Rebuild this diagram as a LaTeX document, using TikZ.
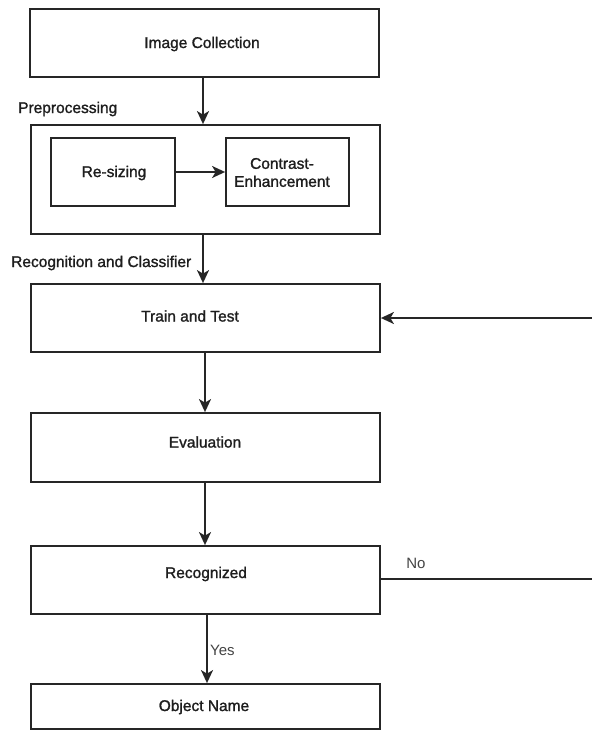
\documentclass[tikz,border=0pt]{standalone}
\usepackage{fontspec}
\setmainfont{Liberation Sans}[BoldFont=Liberation Sans,BoldFeatures={FakeBold=1.3}]
\usetikzlibrary{arrows.meta}
\definecolor{ln}{HTML}{262626}
\definecolor{tx}{HTML}{1E1E1E}
\definecolor{lt}{HTML}{444444}
\begin{document}
\begin{tikzpicture}[x=1pt,y=-1pt,
  box/.style={draw=ln,line width=1.8pt,fill=white,inner sep=0pt},
  txt/.style={text=tx,font=\fontsize{15.5}{18}\selectfont\bfseries,inner sep=0pt,anchor=center},
  lbl/.style={text=tx,font=\fontsize{15.5}{18}\selectfont\bfseries,inner sep=0pt,anchor=west},
  small/.style={text=lt,font=\fontsize{15}{18}\selectfont,inner sep=0pt},
  arr/.style={draw=ln,line width=1.8pt,-{Stealth[length=13pt,width=12pt,inset=3.5pt]}},
  ln/.style={draw=ln,line width=1.8pt}]
\useasboundingbox (0,0) rectangle (591,730);
\fill[white] (0,0) rectangle (591,730);
% boxes
\node[box,minimum width=349pt,minimum height=68pt] (img) at (204.5,43) {};
\node[box,minimum width=349pt,minimum height=109pt] (pre) at (205.5,179.5) {};
\node[box,minimum width=124pt,minimum height=68pt] (rs) at (113,172) {};
\node[box,minimum width=123pt,minimum height=68pt] (ce) at (287.5,172) {};
\node[box,minimum width=349pt,minimum height=68pt] (train) at (205.5,318) {};
\node[box,minimum width=349pt,minimum height=69pt] (eval) at (205.5,447.5) {};
\node[box,minimum width=349pt,minimum height=68pt] (rec) at (205.5,580) {};
\node[box,minimum width=349pt,minimum height=45pt] (obj) at (205.5,706.5) {};
% texts
\node[txt] (timg) at (202,44) {Image Collection};
\node[txt] (trs) at (114,173) {Re-sizing};
\node[txt,align=center] (tce) at (282,172.5) {Contrast-\\Enhancement};
\node[txt] (ttrain) at (190,316) {Train and Test};
\node[txt] (teval) at (205,442) {Evaluation};
\node[txt] (trec) at (206,574) {Recognized};
\node[txt] (tobj) at (204,707) {Object Name};
\node[lbl] (tpre) at (18,109) {Preprocessing};
\node[lbl] (tclass) at (11,263) {Recognition and Classifier};
\node[small,anchor=west] (tyes) at (210,650) {Yes};
\node[small] (tno) at (416,563) {No};
% connectors
\draw[arr] (img.south -| 203,0) -- (pre.north -| 203,0);
\draw[arr] (rs.east) -- (ce.west);
\draw[arr] (pre.south -| 203,0) -- (train.north -| 203,0);
\draw[arr] (train.south -| 205,0) -- (eval.north -| 205,0);
\draw[arr] (eval.south -| 205,0) -- (rec.north -| 205,0);
\draw[arr] (rec.south -| 207,0) -- (obj.north -| 207,0);
\coordinate (r1) at (592,318);
\coordinate (r2) at (592,579);
\draw[arr] (r1) -- (train.east |- r1);
\draw[ln] (rec.east |- r2) -- (r2);
\end{tikzpicture}
\end{document}
